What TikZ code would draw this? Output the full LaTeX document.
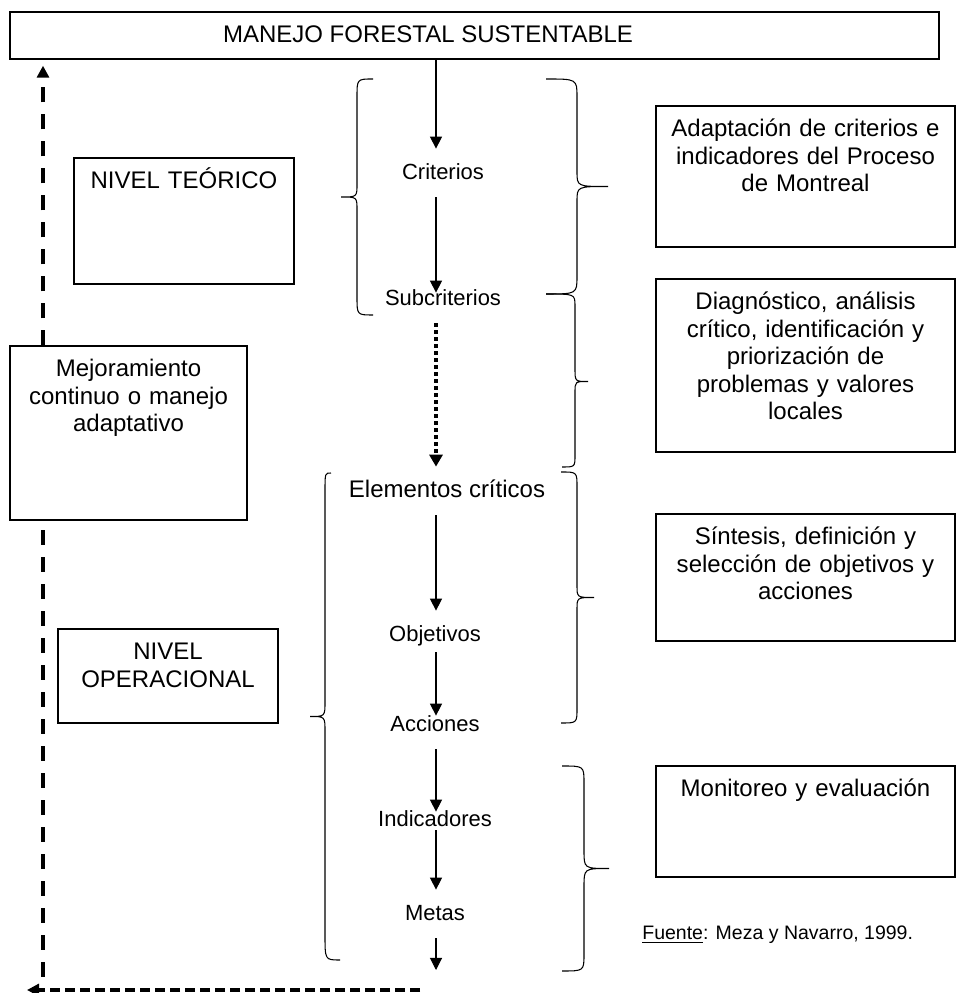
\documentclass[tikz,border=0pt]{standalone}
\usepackage{fontspec}
\setmainfont{Liberation Sans}
\usetikzlibrary{arrows.meta,calc}

\begin{document}
\begin{tikzpicture}[
        caja/.style={draw, line width=0.8pt, inner sep=0pt, align=center, text height=0.62cm, font=\fontsize{13.66}{15.65}\selectfont},
        etiqueta/.style={inner sep=0pt, minimum height=0.96cm, text height=1.6ex, text depth=0.2ex, font=\fontsize{12.5}{15}\selectfont},
        flecha/.style={line width=0.6pt, -{Triangle[length=0.24cm, width=0.24cm]}},
        punteada/.style={line width=2.3pt, dash pattern=on 0.08cm off 0.06cm, -{Triangle[length=0.24cm, width=0.26cm]}},
        retro/.style={line width=2.4pt, dash pattern=on 0.3cm off 0.24cm},
        llave/.style={line width=0.6pt}]
        \useasboundingbox (0, 0) rectangle (19.24, 19.86);

        \node[caja, minimum width=18.58cm, text depth=0.32cm] (manejo) at (9.49, 19.15) {MANEJO FORESTAL SUSTENTABLE\kern1.86cm};
        \node[caja, text width=4.40cm, text depth=1.90cm] (teorico) at (3.68, 15.44) {NIVEL TEÓRICO};
        \node[caja, text width=4.74cm, text depth=2.86cm] (mejora) at (2.57, 11.20) {Mejoramiento\\continuo o manejo\\adaptativo};
        \node[caja, text width=4.40cm, text depth=1.26cm] (operacional) at (3.36, 6.34) {NIVEL\\OPERACIONAL};
        \node[caja, text width=5.98cm, text depth=2.20cm] (adaptacion) at (16.11, 16.33) {Adaptación de criterios e\\indicadores del Proceso\\de Montreal};
        \node[caja, text width=5.98cm, text depth=2.84cm] (diagnostico) at (16.11, 12.55) {Diagnóstico, análisis\\crítico, identificación y\\priorización de\\problemas y valores\\locales};
        \node[caja, text width=5.98cm, text depth=1.92cm] (sintesis) at (16.11, 8.31) {Síntesis, definición y\\selección de objetivos y\\acciones};
        \node[caja, text width=5.98cm, text depth=1.60cm] (monitoreo) at (16.11, 3.43) {Monitoreo y evaluación};

        \node[etiqueta] (criterios) at (8.86, 16.40) {Criterios};
        \node[etiqueta] (subcriterios) at (8.86, 13.88) {Subcriterios};
        \node[etiqueta, font=\fontsize{13.66}{15.65}\selectfont] (elementos) at (8.94, 10.04) {Elementos críticos};
        \node[etiqueta] (objetivos) at (8.70, 7.16) {Objetivos};
        \node[etiqueta] (acciones) at (8.70, 5.36) {Acciones};
        \node[etiqueta] (indicadores) at (8.70, 3.46) {Indicadores};
        \node[etiqueta] (metas) at (8.70, 1.58) {Metas};
        \node[anchor=base west, inner sep=0pt, font=\fontsize{11.1}{13}\selectfont] (fuente) at (12.84, 1.06) {\underline{Fuente}: Meza y Navarro, 1999.};

        \coordinate (eje) at (8.72, 0);
        \coordinate (fin) at (8.72, 0.46);
        \coordinate (lazo) at (0.86, 0.32);
        \coordinate (retorno) at (8.40, 0.06);
        \coordinate (esquina) at (0.54, 0.06);

        \draw[flecha] (manejo.south -| eje) -- (criterios.north -| eje);
        \draw[flecha] (criterios.south -| eje) -- ($(subcriterios.north -| eje) + (0, -0.36)$);
        \draw[punteada] (subcriterios.south -| eje) -- (elementos.north -| eje);
        \draw[flecha] (elementos.south -| eje) -- (objetivos.north -| eje);
        \draw[flecha] ($(objetivos.south -| eje) + (0, 0.14)$) -- ($(acciones.north -| eje) + (0, -0.30)$);
        \draw[flecha] (acciones.south -| eje) -- ($(indicadores.north -| eje) + (0, -0.32)$);
        \draw[flecha] ($(indicadores.south -| eje) + (0, 0.28)$) -- (metas.north -| eje);
        \draw[flecha] (metas.south -| eje) -- (fin);

        \draw[retro] (lazo) -- (mejora.south -| lazo);
        \draw[retro, -{Triangle[length=0.24cm, width=0.24cm]}, shorten >=0.12cm] (mejora.north -| lazo) -- (manejo.south -| lazo);
        \draw[retro, dash pattern=on 0.2cm off 0.1cm, -{Triangle[length=0.24cm, width=0.24cm]}] (retorno) -- (esquina);

        \draw[llave] (7.46, 18.28) .. controls (7.14, 18.28) .. (7.14, 17.92) -- (7.14, 16.18) .. controls (7.14, 15.92) .. (6.82, 15.92) .. controls (7.14, 15.92) .. (7.14, 15.66) -- (7.14, 13.92) .. controls (7.14, 13.56) .. (7.46, 13.56);
        \draw[llave] (6.62, 10.40) .. controls (6.50, 10.40) .. (6.50, 10.04) -- (6.50, 5.83) .. controls (6.50, 5.53) .. (6.20, 5.53) .. controls (6.50, 5.53) .. (6.50, 5.23) -- (6.50, 1.16) .. controls (6.50, 0.66) .. (6.80, 0.66);
        \draw[llave] (10.92, 18.28) .. controls (11.54, 18.28) .. (11.54, 17.92) -- (11.54, 16.43) .. controls (11.54, 16.13) .. (12.16, 16.13) .. controls (11.54, 16.13) .. (11.54, 15.83) -- (11.54, 14.34) .. controls (11.54, 13.98) .. (10.92, 13.98);
        \draw[llave] (10.92, 13.98) .. controls (11.50, 13.98) .. (11.50, 13.74) -- (11.50, 12.49) .. controls (11.50, 12.23) .. (11.76, 12.23) .. controls (11.50, 12.23) .. (11.50, 12.01) -- (11.50, 10.76) .. controls (11.50, 10.52) .. (11.24, 10.52);
        \draw[llave] (11.22, 10.42) .. controls (11.54, 10.42) .. (11.54, 10.12) -- (11.54, 8.15) .. controls (11.54, 7.91) .. (11.88, 7.91) .. controls (11.54, 7.91) .. (11.54, 7.67) -- (11.54, 5.70) .. controls (11.54, 5.40) .. (11.22, 5.40);
        \draw[llave] (11.24, 4.54) .. controls (11.68, 4.54) .. (11.68, 4.20) -- (11.68, 2.85) .. controls (11.68, 2.49) .. (12.18, 2.49) .. controls (11.68, 2.49) .. (11.68, 2.13) -- (11.68, 0.78) .. controls (11.68, 0.44) .. (11.24, 0.44);

    \end{tikzpicture}
\end{document}
